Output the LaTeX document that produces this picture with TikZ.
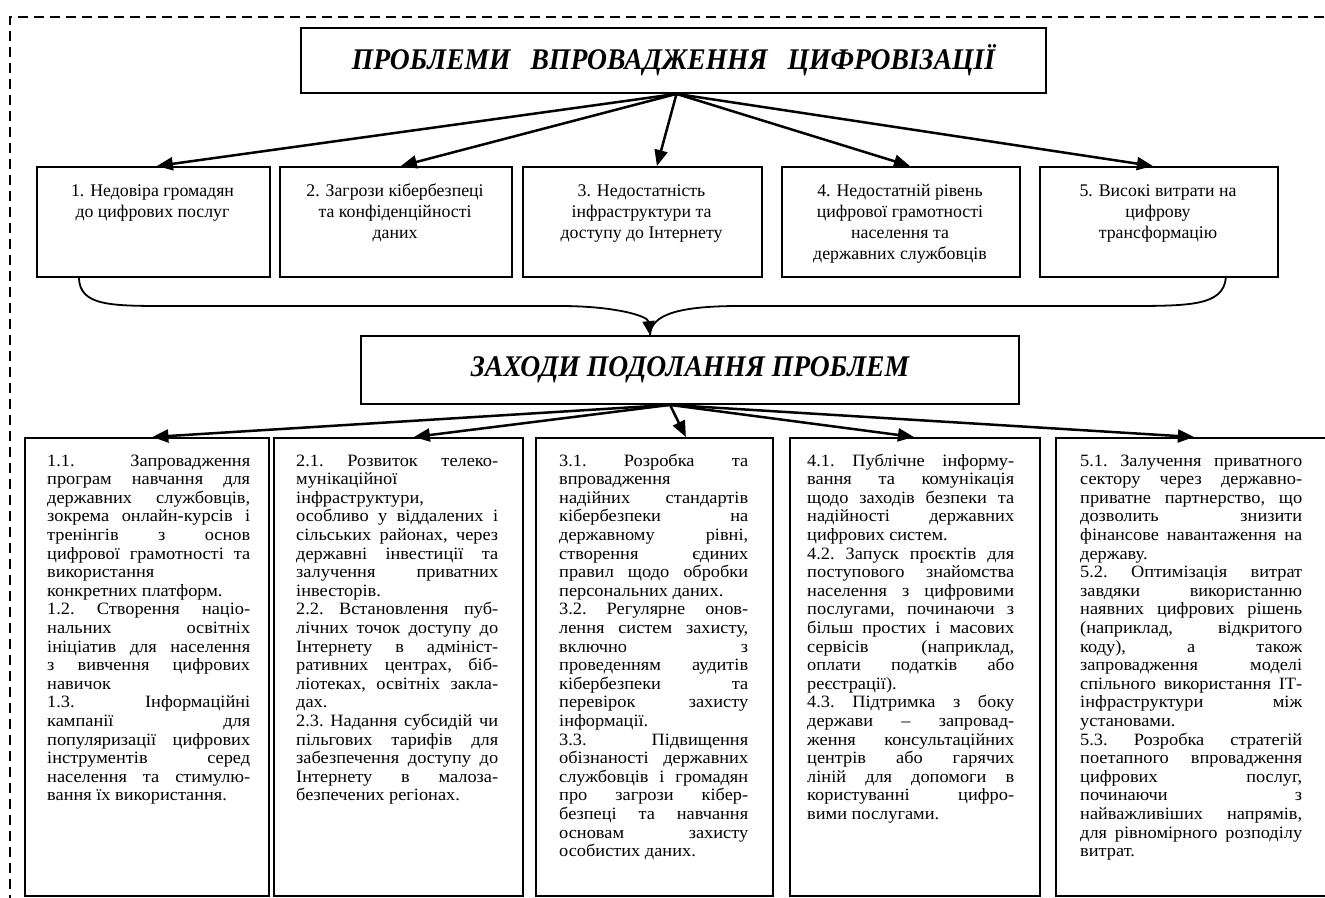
\documentclass[tikz,border=0pt]{standalone}
\usepackage{fontspec}
\setmainfont{Liberation Serif}
\newfontfamily\bodyf[FakeStretch=1.06]{Liberation Serif}
\newfontfamily\titlef[FakeStretch=0.92]{Liberation Serif}
\usetikzlibrary{arrows.meta,calc}
\newlength\colw
\newcommand\J[1]{\hbox to \colw{#1}}
\newcommand\F[1]{\hbox to \colw{#1\hfil}}
\newcommand\colbody[2]{\setlength\colw{#1}\vtop{#2}}
\newcommand\ctr[1]{\vtop{\halign{\hfil##\hfil\cr#1\crcr}}}
\tikzset{
  box/.style={draw, line width=1.8pt, anchor=north west, inner sep=0pt},
  arr/.style={line width=2.5pt, -{Triangle[length=16pt,width=13pt]}},
  bracel/.style={line width=1.8pt},
  rowtxt/.style={font=\fontsize{17.8}{21}\selectfont, anchor=base, inner sep=0pt},
  coltxt/.style={font=\bodyf\fontsize{17.3}{18.6}\selectfont\frenchspacing, anchor=base west, inner sep=0pt},
  ttl/.style={draw, line width=1.8pt, font=\titlef\fontsize{30}{34}\selectfont\bfseries\itshape, inner sep=0pt}
}
\begin{document}
\begin{tikzpicture}[x=1pt,y=-1pt]
\useasboundingbox (0,0) rectangle (1325,897);
% dashed frame
\draw[line width=2pt, dash pattern=on 10pt off 6pt] (10,905) -- (10,17) -- (1335,17);

% titles
\node[ttl, minimum width=745pt, minimum height=65pt] (t1) at (673.5,60.5) {ПРОБЛЕМИ\hspace{20pt}ВПРОВАДЖЕННЯ\hspace{20pt}ЦИФРОВІЗАЦІЇ};
\node[ttl, minimum width=658pt, minimum height=68pt] (t2) at (690,370) {ЗАХОДИ ПОДОЛАННЯ ПРОБЛЕМ};

% problem boxes
\node[box, minimum width=233pt, minimum height=110pt] (p1) at (36,166) {};
\node[box, minimum width=232pt, minimum height=110pt] (p2) at (279,166) {};
\node[box, minimum width=239pt, minimum height=110pt] (p3) at (522,166) {};
\node[box, minimum width=238pt, minimum height=110pt] (p4) at (781,166) {};
\node[box, minimum width=238pt, minimum height=110pt] (p5) at (1039,166) {};

\node[rowtxt] (p1t) at (152.5,196) {\ctr{1. Недовіра громадян\cr до цифрових послуг}};
\node[rowtxt] (p2t) at (395,196) {\ctr{2. Загрози кібербезпеці\cr та конфіденційності\cr даних}};
\node[rowtxt] (p3t) at (641.5,196) {\ctr{3. Недостатність\cr інфраструктури та\cr доступу до Інтернету}};
\node[rowtxt] (p4t) at (900,196) {\ctr{4. Недостатній рівень\cr цифрової грамотності\cr населення та\cr державних службовців}};
\node[rowtxt] (p5t) at (1158,196) {\ctr{5. Високі витрати на\cr цифрову\cr трансформацію}};

% arrows from title 1
\draw[arr] ($(t1.south)+(3,0)$) -- ($(p1.north)+(3.5,0)$);
\draw[arr] ($(t1.south)+(3,0)$) -- ($(p2.north)+(5,0)$);
\draw[arr] ($(t1.south)+(3,0)$) -- ($(p3.north)+(14.5,0)$);
\draw[arr] ($(t1.south)+(3,0)$) -- ($(p4.north)+(9,0)$);
\draw[arr] ($(t1.south)+(3,0)$) -- ($(p5.north)+(-6,0)$);

% brace
\draw[bracel, -{Triangle[length=14pt,width=12pt]}] ($(p1.south)+(-74.5,0)$) .. controls (80,306) and (110,306) .. (170,306) -- (560,306) .. controls (615,306) and (648,316) .. ($(t2.north)+(-40,0)$);
\draw[bracel] ($(p5.south)+(67,0)$) .. controls (1223,306) and (1190,306) .. (1124,306) -- (740,306) .. controls (680,306) and (651,314) .. ($(t2.north)+(-40,0)$);

% measure boxes
\node[box, minimum width=244pt, minimum height=458pt] (b1) at (24,437) {};
\node[box, minimum width=249pt, minimum height=458pt] (b2) at (273,437) {};
\node[box, minimum width=237pt, minimum height=458pt] (b3) at (535,437) {};
\node[box, minimum width=250pt, minimum height=458pt] (b4) at (789,437) {};
\node[box, minimum width=285pt, minimum height=458pt] (b5) at (1055,437) {};

% arrows from title 2
\draw[arr] ($(t2.south)+(-20,0)$) -- ($(b1.north)+(5.5,0)$);
\draw[arr] ($(t2.south)+(-20,0)$) -- ($(b2.north)+(15.5,0)$);
\draw[arr] ($(t2.south)+(-20,0)$) -- ($(b3.north)+(31.5,0)$);
\draw[arr] ($(t2.south)+(-20,0)$) -- ($(b4.north)+(-1,0)$);
\draw[arr] ($(t2.south)+(-20,0)$) -- ($(b5.north)+(-4.5,0)$);

\node[coltxt] (c1) at (47,466) {\colbody{203pt}{
\J{1.1. Запровадження}
\J{програм навчання для}
\J{державних службовців,}
\J{зокрема онлайн-курсів і}
\J{тренінгів з основ}
\J{цифрової грамотності та}
\F{використання}
\F{конкретних платформ.}
\J{1.2. Створення націо-}
\J{нальних освітніх}
\J{ініціатив для населення}
\J{з вивчення цифрових}
\F{навичок}
\J{1.3. Інформаційні}
\J{кампанії для}
\J{популяризації цифрових}
\J{інструментів серед}
\J{населення та стимулю-}
\F{вання їх використання.}
}};

\node[coltxt] (c2) at (296,466) {\colbody{202pt}{
\J{2.1. Розвиток телеко-}
\F{мунікаційної}
\F{інфраструктури,}
\J{особливо у віддалених і}
\J{сільських районах, через}
\J{державні інвестиції та}
\J{залучення приватних}
\F{інвесторів.}
\J{2.2. Встановлення пуб-}
\J{лічних точок доступу до}
\J{Інтернету в адмініст-}
\J{ративних центрах, біб-}
\J{ліотеках, освітніх закла-}
\F{дах.}
\J{2.3. Надання субсидій чи}
\J{пільгових тарифів для}
\J{забезпечення доступу до}
\J{Інтернету в малоза-}
\F{безпечених регіонах.}
}};

\node[coltxt] (c3) at (559,466) {\colbody{189pt}{
\J{3.1. Розробка та}
\F{впровадження}
\J{надійних стандартів}
\J{кібербезпеки на}
\J{державному рівні,}
\J{створення єдиних}
\J{правил щодо обробки}
\F{персональних даних.}
\J{3.2. Регулярне онов-}
\J{лення систем захисту,}
\J{включно з}
\J{проведенням аудитів}
\J{кібербезпеки та}
\J{перевірок захисту}
\F{інформації.}
\J{3.3. Підвищення}
\J{обізнаності державних}
\J{службовців і громадян}
\J{про загрози кібер-}
\J{безпеці та навчання}
\J{основам захисту}
\F{особистих даних.}
}};

\node[coltxt] (c4) at (807,466) {\colbody{207pt}{
\J{4.1. Публічне інформу-}
\J{вання та комунікація}
\J{щодо заходів безпеки та}
\J{надійності державних}
\F{цифрових систем.}
\J{4.2. Запуск проєктів для}
\J{поступового знайомства}
\J{населення з цифровими}
\J{послугами, починаючи з}
\J{більш простих і масових}
\J{сервісів (наприклад,}
\J{оплати податків або}
\F{реєстрації).}
\J{4.3. Підтримка з боку}
\J{держави – запровад-}
\J{ження консультаційних}
\J{центрів або гарячих}
\J{ліній для допомоги в}
\J{користуванні цифро-}
\F{вими послугами.}
}};

\node[coltxt] (c5) at (1080,466) {\colbody{222pt}{
\J{5.1. Залучення приватного}
\J{сектору через державно-}
\J{приватне партнерство, що}
\J{дозволить знизити}
\J{фінансове навантаження на}
\F{державу.}
\J{5.2. Оптимізація витрат}
\J{завдяки використанню}
\J{наявних цифрових рішень}
\J{(наприклад, відкритого}
\J{коду), а також}
\J{запровадження моделі}
\J{спільного використання ІТ-}
\J{інфраструктури між}
\F{установами.}
\J{5.3. Розробка стратегій}
\J{поетапного впровадження}
\J{цифрових послуг,}
\J{починаючи з}
\J{найважливіших напрямів,}
\J{для рівномірного розподілу}
\F{витрат.}
}};
\end{tikzpicture}
\end{document}
